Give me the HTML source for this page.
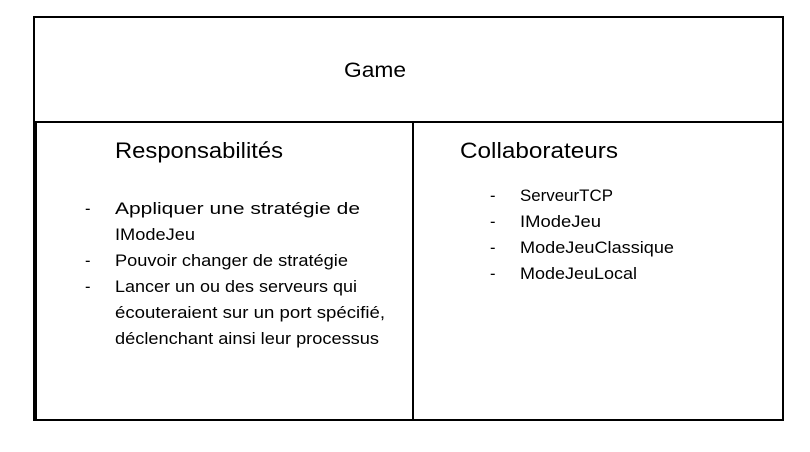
<!DOCTYPE html>
<html><head><meta charset="utf-8"><style>
html,body{margin:0;padding:0;background:#fff;}
svg{display:block}
text{font-family:"Liberation Sans",sans-serif;fill:#000}
</style></head><body>
<svg width="810" height="452" viewBox="0 0 810 452" xmlns="http://www.w3.org/2000/svg">
<rect x="0" y="0" width="810" height="452" fill="#fff"/>
<rect x="34" y="17" width="749" height="403" fill="none" stroke="#000" stroke-width="2"/>
<line x1="34" y1="122" x2="783" y2="122" stroke="#000" stroke-width="2"/>
<line x1="36" y1="122" x2="36" y2="420" stroke="#000" stroke-width="2"/>
<line x1="413" y1="122" x2="413" y2="420" stroke="#000" stroke-width="2"/>
<text x="344" y="77" font-size="21" textLength="62" lengthAdjust="spacingAndGlyphs">Game</text>
<text x="115" y="158" font-size="22" textLength="168" lengthAdjust="spacingAndGlyphs">Responsabilités</text>
<text x="460" y="158" font-size="22" textLength="158" lengthAdjust="spacingAndGlyphs">Collaborateurs</text>
<g font-size="16.5">
<text x="85" y="214">-</text>
<text x="115" y="214" textLength="245" lengthAdjust="spacingAndGlyphs">Appliquer une stratégie de</text>
<text x="115" y="240" textLength="80" lengthAdjust="spacingAndGlyphs">IModeJeu</text>
<text x="85" y="266">-</text>
<text x="115" y="266" textLength="233" lengthAdjust="spacingAndGlyphs">Pouvoir changer de stratégie</text>
<text x="85" y="292">-</text>
<text x="115" y="292" textLength="242" lengthAdjust="spacingAndGlyphs">Lancer un ou des serveurs qui</text>
<text x="115" y="318" textLength="270" lengthAdjust="spacingAndGlyphs">écouteraient sur un port spécifié,</text>
<text x="115" y="344" textLength="264" lengthAdjust="spacingAndGlyphs">déclenchant ainsi leur processus</text>
<text x="490" y="201">-</text>
<text x="520" y="201" textLength="93" lengthAdjust="spacingAndGlyphs">ServeurTCP</text>
<text x="490" y="227">-</text>
<text x="520" y="227" textLength="81" lengthAdjust="spacingAndGlyphs">IModeJeu</text>
<text x="490" y="253">-</text>
<text x="520" y="253" textLength="154" lengthAdjust="spacingAndGlyphs">ModeJeuClassique</text>
<text x="490" y="279">-</text>
<text x="520" y="279" textLength="117" lengthAdjust="spacingAndGlyphs">ModeJeuLocal</text>
</g>
</svg>
</body></html>
